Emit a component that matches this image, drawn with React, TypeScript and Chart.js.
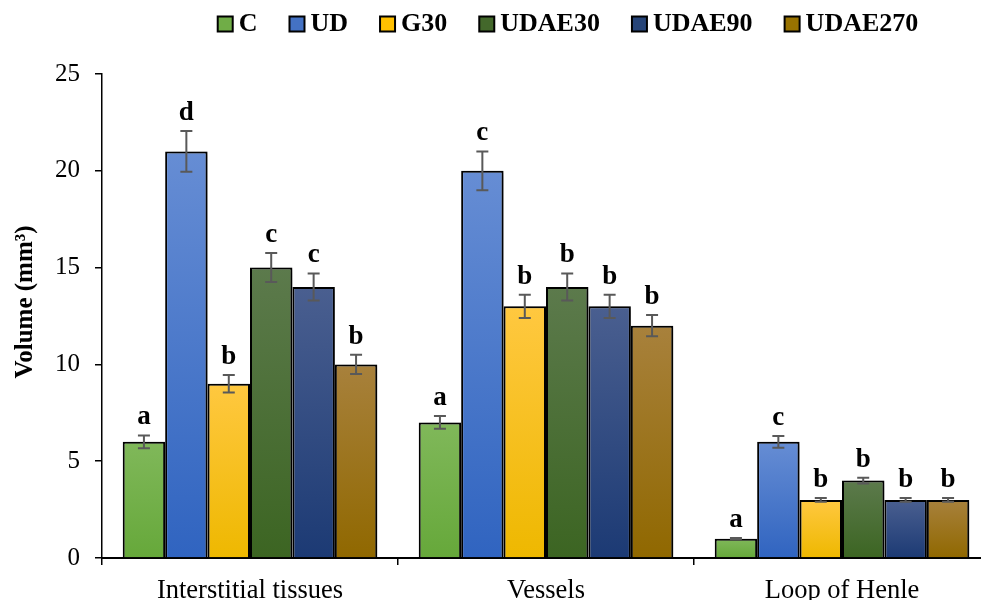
import React, { useEffect, useRef } from "react";
import { Chart, registerables } from "chart.js";

Chart.register(...registerables);

const categories = ["Interstitial tissues", "Vessels", "Loop of Henle"];
const seriesNames = ["C", "UD", "G30", "UDAE30", "UDAE90", "UDAE270"];

const valuesC = [6, 7, 1];
const valuesUD = [21, 20, 6];
const valuesG30 = [9, 13, 3];
const valuesUDAE30 = [15, 14, 4];
const valuesUDAE90 = [14, 13, 3];
const valuesUDAE270 = [10, 12, 3];

const errorsC = [0.33, 0.33, 0.03];
const errorsUD = [1.05, 1.0, 0.3];
const errorsG30 = [0.45, 0.6, 0.1];
const errorsUDAE30 = [0.75, 0.7, 0.15];
const errorsUDAE90 = [0.7, 0.6, 0.1];
const errorsUDAE270 = [0.5, 0.55, 0.1];

const lettersC = ["a", "a", "a"];
const lettersUD = ["d", "c", "c"];
const lettersG30 = ["b", "b", "b"];
const lettersUDAE30 = ["c", "b", "b"];
const lettersUDAE90 = ["c", "b", "b"];
const lettersUDAE270 = ["b", "b", "b"];

const yTickMin = 0;
const yTickMax = 25;
const yTickStep = 5;
const yTitle = "Volume (mm³)";

const colorTop = ["#80b85a", "#668dd4", "#ffc840", "#5c7a4c", "#4a5f90", "#a8813c"];
const colorBottom = ["#66a83a", "#3064c0", "#eeb800", "#3c6522", "#1c3a74", "#906800"];
const colorLegend = ["#70ad47", "#4472c4", "#ffc000", "#43682b", "#264478", "#997300"];

const allValues = [valuesC, valuesUD, valuesG30, valuesUDAE30, valuesUDAE90, valuesUDAE270];
const allErrors = [errorsC, errorsUD, errorsG30, errorsUDAE30, errorsUDAE90, errorsUDAE270];
const allLetters = [lettersC, lettersUD, lettersG30, lettersUDAE30, lettersUDAE90, lettersUDAE270];

const SERIF = "'Times New Roman', 'Liberation Serif', serif";

const decoPlugin = {
  id: "deco",
  beforeDatasetsDraw(chart: any) {
    const ctx = chart.ctx;
    ctx.save();
    ctx.shadowColor = "rgba(0,0,0,0.35)";
    ctx.shadowBlur = 6;
    ctx.shadowOffsetX = 4;
    ctx.shadowOffsetY = 1;
  },
  afterDatasetsDraw(chart: any) {
    const ctx = chart.ctx;
    ctx.restore();
    const yScale = chart.scales.y;
    chart.data.datasets.forEach((ds: any, i: number) => {
      const meta = chart.getDatasetMeta(i);
      meta.data.forEach((el: any, j: number) => {
        const v = allValues[i][j];
        const e = allErrors[i][j];
        const x = el.x;
        const yt = yScale.getPixelForValue(v + e);
        const yb = yScale.getPixelForValue(v - e);
        ctx.save();
        ctx.strokeStyle = "#595959";
        ctx.lineWidth = 2;
        ctx.beginPath();
        ctx.moveTo(x, yt);
        ctx.lineTo(x, yb);
        ctx.moveTo(x - 6, yt);
        ctx.lineTo(x + 6, yt);
        ctx.moveTo(x - 6, yb);
        ctx.lineTo(x + 6, yb);
        ctx.stroke();
        ctx.fillStyle = "#000";
        ctx.font = `bold 27px ${SERIF}`;
        ctx.textAlign = "center";
        ctx.textBaseline = "alphabetic";
        ctx.fillText(allLetters[i][j], x, yt - 11);
        ctx.restore();
      });
    });
  },
  afterDraw(chart: any) {
    const ctx = chart.ctx;
    const area = chart.chartArea;
    ctx.save();
    // y-axis title
    ctx.font = `bold 25px ${SERIF}`;
    ctx.fillStyle = "#000";
    ctx.textAlign = "center";
    ctx.textBaseline = "middle";
    ctx.translate(26, (area.top + area.bottom) / 2 - 14);
    ctx.rotate(-Math.PI / 2);
    ctx.fillText(yTitle, 0, 0);
    ctx.restore();

    // legend
    ctx.save();
    ctx.font = `bold 26px ${SERIF}`;
    const box = 15;
    const gapText = 6;
    const gapItem = 32;
    const widths = seriesNames.map((n) => box + gapText + ctx.measureText(n).width);
    const total = widths.reduce((a, b) => a + b, 0) + gapItem * (seriesNames.length - 1);
    const center = (area.left + area.right) / 2 + 22;
    let x = center - total / 2;
    const yMid = 24;
    seriesNames.forEach((n, i) => {
      ctx.fillStyle = colorLegend[i];
      ctx.fillRect(x, yMid - box / 2, box, box);
      ctx.strokeStyle = "#000";
      ctx.lineWidth = 2;
      ctx.strokeRect(x, yMid - box / 2, box, box);
      ctx.fillStyle = "#000";
      ctx.textAlign = "left";
      ctx.textBaseline = "middle";
      ctx.fillText(n, x + box + gapText, yMid);
      x += widths[i] + gapItem;
    });
    ctx.restore();
  },
};

export default function App() {
  const ref = useRef<HTMLCanvasElement | null>(null);

  useEffect(() => {
    if (!ref.current) return;
    const datasets = seriesNames.map((name, i) => ({
      label: name,
      data: allValues[i],
      borderColor: "#000",
      borderWidth: 2,
      categoryPercentage: 0.86,
      barPercentage: 1.0,
      backgroundColor: (c: any) => {
        const chart = c.chart;
        if (c.type !== "data" || !chart.chartArea || !chart.scales.y) return colorLegend[i];
        const ys = chart.scales.y;
        const top = ys.getPixelForValue(c.raw as number);
        const bottom = ys.getPixelForValue(0);
        if (!isFinite(top) || !isFinite(bottom) || top === bottom) return colorLegend[i];
        const g = chart.ctx.createLinearGradient(0, top, 0, bottom);
        g.addColorStop(0, colorTop[i]);
        g.addColorStop(1, colorBottom[i]);
        return g;
      },
    }));

    const chart = new Chart(ref.current, {
      type: "bar",
      data: { labels: categories, datasets },
      plugins: [decoPlugin],
      options: {
        responsive: false,
        maintainAspectRatio: false,
        devicePixelRatio: 1,
        animation: false,
        layout: { padding: { top: 74, right: 2, left: 0, bottom: 0 } },
        plugins: {
          legend: { display: false },
          tooltip: { enabled: false },
        },
        scales: {
          x: {
            afterFit: (s: any) => {
              s.height = 46;
            },
            grid: {
              display: true,
              offset: true,
              drawOnChartArea: false,
              drawTicks: true,
              tickLength: 7,
              color: "#000",
              lineWidth: 1.5,
            },
            border: { display: true, color: "#000", width: 2 },
            ticks: {
              color: "#000",
              font: { family: SERIF, size: 26.5 },
              padding: 10,
              maxRotation: 0,
            },
          },
          y: {
            min: yTickMin,
            max: yTickMax,
            afterFit: (s: any) => {
              s.width = 102;
            },
            ticks: {
              stepSize: yTickStep,
              color: "#000",
              font: { family: SERIF, size: 25 },
              padding: 15,
            },
            grid: {
              display: true,
              drawOnChartArea: false,
              drawTicks: true,
              tickLength: 7,
              color: "#000",
              lineWidth: 1.5,
            },
            border: { display: true, color: "#000", width: 1.5 },
            title: { display: false },
          },
        },
      } as any,
    });
    return () => chart.destroy();
  }, []);

  return (
    <div
      style={{
        position: "fixed",
        left: 0,
        top: 0,
        width: 981,
        height: 600,
        overflow: "hidden",
        background: "#fff",
      }}
    >
      <canvas ref={ref} width={992} height={604} style={{ display: "block", width: 992, height: 604 }} />
    </div>
  );
}
